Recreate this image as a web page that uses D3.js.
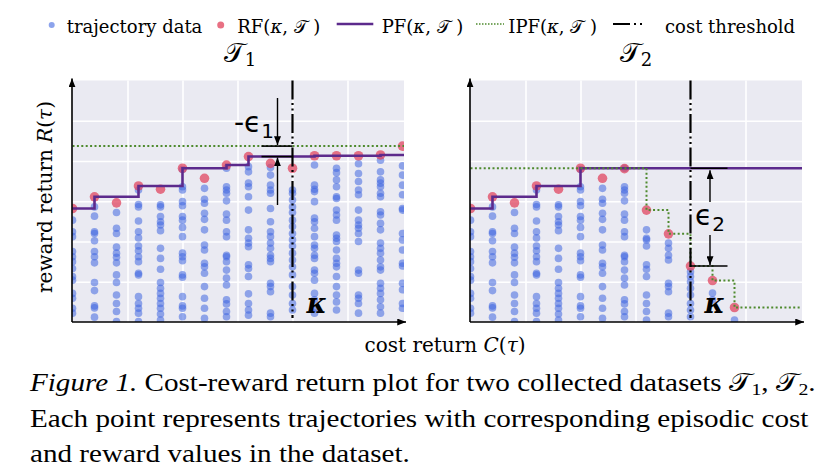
<!DOCTYPE html>
<html>
<head>
<meta charset="utf-8">
<script src="https://cdn.jsdelivr.net/npm/d3@7"></script>
<style>
  body { margin: 0; background: #fff; }
  svg { display: block; }
</style>
</head>
<body>
<svg id="chart" width="833" height="471"></svg>
<script>
// cost columns (shared cost grid of both datasets)
var costT1 = [0, 1, 2, 3, 4, 5, 6, 7, 8, 9, 10, 11, 12, 13, 14, 15];
var costT2 = [0, 1, 2, 3, 4, 5, 6, 7, 8, 9, 10, 11, 12];

// trajectory rewards, one list per cost column
var trajT1 = [
    [25.3, 22.4, 21.2, 17.5, 16.2, 15.0, 13.3, 11.3, 10.4, 7.1, 5.9, 3.4, 2.2],
    [28.6, 26.3, 22.4, 22.0, 20.2, 17.5, 16.2, 14.7, 9.8, 7.8, 4.0, 3.5, 1.2],
    [27.2, 23.3, 22.0, 18.6, 17.1, 16.1, 14.7, 11.7, 9.8, 6.7, 4.6, 2.6, 0.1],
    [32.8, 29.2, 28.6, 25.1, 22.4, 20.9, 18.9, 17.7, 16.2, 15.0, 12.1, 11.7, 6.3, 4.6, 3.4, 2.2, 0.1],
    [29.1, 28.6, 26.2, 24.9, 24.1, 22.7, 18.3, 15.8, 13.1, 9.8, 8.4, 7.1, 5.9, 4.6, 3.4, 2.0, 0.5],
    [37.9, 33.6, 32.8, 29.9, 28.9, 26.2, 25.3, 23.5, 21.2, 17.1, 16.2, 15.2, 11.7, 11.1, 6.3, 4.0, 3.4, 1.3],
    [33.2, 30.5, 29.5, 27.0, 25.5, 22.9, 19.1, 17.9, 14.6, 13.7, 12.1, 8.8, 5.9, 3.4, 0.9],
    [38.2, 33.6, 32.8, 32.0, 30.1, 26.8, 25.3, 22.4, 21.2, 16.6, 16.2, 15.0, 12.9, 10.9, 9.2, 5.5, 4.5, 2.6, 1.3],
    [38.6, 37.3, 34.5, 33.6, 31.1, 27.8, 22.9, 20.8, 19.6, 18.7, 14.2, 13.3, 11.3, 7.0, 4.6, 3.0, 1.7],
    [38.4, 36.5, 34.0, 32.8, 32.0, 28.2, 24.9, 22.4, 21.2, 19.6, 18.3, 16.6, 15.8, 15.0, 9.6, 8.8, 7.5, 2.2, 1.3],
    [32.8, 32.0, 30.3, 28.6, 27.2, 25.3, 23.7, 22.0, 20.4, 18.9, 17.1, 15.4, 13.7, 11.7, 8.8, 6.7, 4.6, 3.0],
    [39.0, 34.0, 33.0, 32.4, 29.9, 25.8, 24.9, 23.3, 21.2, 19.1, 18.3, 16.6, 15.8, 12.9, 12.1, 10.4, 7.1, 5.5, 3.4, 2.2],
    [38.2, 37.1, 35.3, 33.6, 31.1, 30.7, 27.8, 26.6, 25.3, 21.6, 20.8, 20.0, 17.9, 15.8, 14.6, 13.7, 11.3, 8.8, 6.7, 5.0, 3.0],
    [39.3, 36.9, 34.9, 32.8, 31.6, 27.8, 25.3, 24.1, 23.3, 22.0, 20.0, 12.9, 12.1, 6.7, 5.9, 4.6, 2.2],
    [40.2, 37.3, 35.3, 34.5, 33.6, 32.0, 31.1, 27.4, 26.6, 24.5, 22.9, 19.6, 18.3, 17.1, 15.4, 13.7, 12.9, 9.6, 8.4, 7.1, 5.5, 3.8, 2.2],
    [38.8, 36.5, 34.0, 31.6, 28.2, 27.8, 22.0, 20.4, 17.9, 14.6, 13.9, 9.6, 8.0, 4.6, 3.4]
];
// the second dataset keeps the low-cost columns and has few high-cost trajectories
var trajT2 = trajT1.slice(0, 8).concat([
    [22.9, 20.8, 20.4, 18.9, 14.2, 13.1, 11.3, 6.7, 4.6, 2.6, 0.5],
    [19.6, 18.3, 16.6, 15.4, 9.6, 8.8, 7.5, 2.2, 1.3],
    [12.5, 11.3, 10.0, 8.4, 6.7, 4.6, 3.0, 1.3],
    [7.2, 5.5],
    [0.5]
]);

var rfT1 = [28.2, 31.1, 29.6, 33.8, 33.0, 38.2, 35.7, 39.0, 41.1, 39.4, 38.2, 41.3, 41.3, 41.3, 41.5, 43.7];
var pfT1 = [28.2, 31.1, 31.1, 33.8, 33.8, 38.2, 38.2, 39.0, 41.1, 41.1, 41.1, 41.3, 41.3, 41.3, 41.5, 41.5];
var ipfT1 = [43.7, 43.7, 43.7, 43.7, 43.7, 43.7, 43.7, 43.7, 43.7, 43.7, 43.7, 43.7, 43.7, 43.7, 43.7, 43.7];

var rfT2 = [28.2, 31.1, 29.6, 33.8, 33.0, 38.2, 35.7, 38.1, 27.8, 21.9, 13.9, 10.3, 3.6];
var pfT2 = [28.2, 31.1, 31.1, 33.8, 33.8, 38.2, 38.2, 38.2, 38.2, 38.2, 38.2, 38.2, 38.2];
var ipfT2 = [38.2, 38.2, 38.2, 38.2, 38.2, 38.2, 38.2, 38.2, 27.8, 21.9, 13.9, 10.3, 3.6];

var kappa = 10;
var costGrid = [2.5, 5, 7.5, 10, 12.5];
var rewardGrid = [10, 20, 30, 40, 50];

var svg = d3.select("#chart");
var serif = "'DejaVu Serif', serif";

// arrow head marker
var defs = svg.append("defs");
defs.append("marker")
    .attr("id", "arrow")
    .attr("viewBox", "0 0 10 8")
    .attr("refX", 10).attr("refY", 4)
    .attr("markerWidth", 9).attr("markerHeight", 7)
    .attr("markerUnits", "userSpaceOnUse")
    .attr("orient", "auto")
    .append("path").attr("d", "M0,0L10,4L0,8z").attr("fill", "#000");

function drawPanel(id, left, cost, traj, rf, pf, ipf, eps) {
    var w = 332, top = 80.5, bottom = 322;
    var x = d3.scaleLinear().domain([0, 15]).range([left + 0.5, left + 330.5]);
    var y = d3.scaleLinear().domain([0, 60]).range([bottom, top]);
    var xEnd = x.invert(left + w);

    var g = svg.append("g").attr("class", "panel-" + id);

    defs.append("clipPath").attr("id", "clip-" + id)
        .append("rect").attr("x", left).attr("y", top).attr("width", w).attr("height", bottom - top);

    g.append("rect")
        .attr("x", left).attr("y", top)
        .attr("width", w).attr("height", bottom - top)
        .attr("fill", "#eaeaf2");

    // grid
    g.append("g")
        .attr("transform", "translate(0," + bottom + ")")
        .call(d3.axisBottom(x).tickValues(costGrid).tickSize(-(bottom - top)).tickFormat(""))
        .call(function(s) { s.select(".domain").remove(); })
        .selectAll("line").attr("stroke", "#fff").attr("stroke-width", 1.6);
    g.append("g")
        .attr("transform", "translate(" + left + ",0)")
        .call(d3.axisLeft(y).tickValues(rewardGrid).tickSize(-w).tickFormat(""))
        .call(function(s) { s.select(".domain").remove(); })
        .selectAll("line").attr("stroke", "#fff").attr("stroke-width", 1.6);

    var pts = [];
    traj.forEach(function(col, i) {
        col.forEach(function(v) { pts.push({c: cost[i], r: v}); });
    });

    var clipped = g.append("g").attr("clip-path", "url(#clip-" + id + ")");
    clipped.selectAll("circle.traj")
        .data(pts)
        .enter()
        .append("circle")
        .attr("class", "traj")
        .attr("cx", function(d) { return x(d.c); })
        .attr("cy", function(d) { return y(d.r); })
        .attr("r", 3.8)
        .attr("fill", "#3f66e0")
        .attr("fill-opacity", 0.55);

    clipped.selectAll("circle.rf")
        .data(rf)
        .enter()
        .append("circle")
        .attr("class", "rf")
        .attr("cx", function(d, i) { return x(cost[i]); })
        .attr("cy", function(d) { return y(d); })
        .attr("r", 4.8)
        .attr("fill", "#e0405a")
        .attr("fill-opacity", 0.72);

    var step = d3.line()
        .x(function(d) { return x(d[0]); })
        .y(function(d) { return y(d[1]); })
        .curve(d3.curveStepAfter);

    function stepData(vals) {
        var arr = vals.map(function(v, i) { return [cost[i], v]; });
        arr.push([xEnd, vals[vals.length - 1]]);
        return arr;
    }

    g.append("path")
        .attr("d", step(stepData(pf)))
        .attr("fill", "none")
        .attr("stroke", "#5c2a8c")
        .attr("stroke-width", 2.6);

    g.append("path")
        .attr("d", step(stepData(ipf)))
        .attr("fill", "none")
        .attr("stroke", "#4e8a2e")
        .attr("stroke-width", 2)
        .attr("stroke-dasharray", "2,2.4");

    // cost threshold
    g.append("line")
        .attr("x1", x(kappa)).attr("x2", x(kappa))
        .attr("y1", top).attr("y2", bottom - 4)
        .attr("stroke", "#000")
        .attr("stroke-width", 2.2)
        .attr("stroke-dasharray", "19,3.5,2,3.5,2,3.5");

    // axes
    g.append("line")
        .attr("x1", left).attr("y1", bottom)
        .attr("x2", left + w + 2).attr("y2", bottom)
        .attr("stroke", "#000").attr("stroke-width", 1.6)
        .attr("marker-end", "url(#arrow)");
    g.append("line")
        .attr("x1", left).attr("y1", bottom)
        .attr("x2", left).attr("y2", top - 2)
        .attr("stroke", "#000").attr("stroke-width", 1.6)
        .attr("marker-end", "url(#arrow)");

    // epsilon gap annotation
    var xk = x(kappa);
    [y(eps.hi), y(eps.lo)].forEach(function(yy) {
        g.append("line")
            .attr("x1", xk + eps.seg[0]).attr("x2", xk + eps.seg[1])
            .attr("y1", yy).attr("y2", yy)
            .attr("stroke", "#000").attr("stroke-width", 1.6);
    });
    var ax = xk + eps.arrowX;
    var tips = [y(eps.hi) + eps.tipPad[0], y(eps.lo) + eps.tipPad[1]];
    [0, 1].forEach(function(k) {
        g.append("line")
            .attr("x1", ax).attr("x2", ax)
            .attr("y1", eps.from[k]).attr("y2", tips[k])
            .attr("stroke", "#000").attr("stroke-width", 1.4)
            .attr("marker-end", "url(#arrow)");
    });

    var lab = g.append("text")
        .attr("x", eps.label[0]).attr("y", eps.label[1])
        .attr("font-family", "'DejaVu Sans', sans-serif")
        .attr("font-size", 28)
        .attr("fill", "#000");
    lab.append("tspan").text(eps.prefix + "\u03F5");
    lab.append("tspan").attr("font-size", 20).attr("dy", 6).text(eps.sub);

    g.append("text")
        .attr("x", xk + 14).attr("y", 313)
        .attr("font-family", serif)
        .attr("font-size", 27)
        .attr("font-weight", "bold")
        .attr("font-style", "italic")
        .text("\u03BA");

    return {x: x, y: y};
}

drawPanel("t1", 72, costT1, trajT1, rfT1, pfT1, ipfT1, {
    hi: 43.7, lo: 41.1, seg: [-31, 0], arrowX: -15, tipPad: [-1, 1],
    from: [98, 205], label: [234, 132], prefix: "-", sub: "1"
});

drawPanel("t2", 470, costT2, trajT2, rfT2, pfT2, ipfT2, {
    hi: 38.2, lo: 13.9, seg: [0, 37], arrowX: 19.5, tipPad: [2, -1],
    from: [202, 235], label: [695, 225], prefix: "", sub: "2"
});

// panel titles
function calT(x, yb, sub) {
    var t = svg.append("text")
        .attr("x", x).attr("y", yb)
        .attr("font-family", serif)
        .attr("font-size", 27)
        .attr("text-anchor", "middle");
    t.append("tspan").text("\uD835\uDCAF");
    t.append("tspan").attr("font-size", 18).attr("dy", 4).text(sub);
}
calT(240, 62, "1");
calT(636, 62, "2");

// legend
var lg = svg.append("g").attr("font-family", serif).attr("font-size", 18);
lg.append("circle").attr("cx", 51.7).attr("cy", 25).attr("r", 3).attr("fill", "#3f66e0").attr("fill-opacity", 0.6);
lg.append("text").attr("x", 66.7).attr("y", 33).text("trajectory data");
lg.append("circle").attr("cx", 220.7).attr("cy", 25).attr("r", 3.5).attr("fill", "#e0405a").attr("fill-opacity", 0.75);
lg.append("line").attr("x1", 336.7).attr("x2", 373.3).attr("y1", 24).attr("y2", 24)
    .attr("stroke", "#5c2a8c").attr("stroke-width", 2.5);
lg.append("line").attr("x1", 476).attr("x2", 504).attr("y1", 24).attr("y2", 24)
    .attr("stroke", "#4e8a2e").attr("stroke-width", 1.6).attr("stroke-dasharray", "1.5,1.5");
lg.append("line").attr("x1", 613).attr("x2", 645).attr("y1", 24).attr("y2", 24)
    .attr("stroke", "#000").attr("stroke-width", 2.2).attr("stroke-dasharray", "17,4,2,4,2,6");

function mathLabel(x, name) {
    var t = lg.append("text").attr("x", x).attr("y", 33);
    t.append("tspan").text(name + "(");
    t.append("tspan").attr("font-style", "italic").text("\u03BA");
    t.append("tspan").text(", \uD835\uDCAF )");
}
mathLabel(237.3, "RF");
mathLabel(381.7, "PF");
mathLabel(508.3, "IPF");
lg.append("text").attr("x", 665).attr("y", 33).text("cost threshold");

// axis labels
var xl = svg.append("text")
    .attr("x", 445).attr("y", 352)
    .attr("text-anchor", "middle")
    .attr("font-family", serif).attr("font-size", 20);
xl.append("tspan").text("cost return ");
xl.append("tspan").attr("font-style", "italic").text("C");
xl.append("tspan").text("(");
xl.append("tspan").attr("font-style", "italic").text("\u03C4");
xl.append("tspan").text(")");

var yl = svg.append("text")
    .attr("transform", "translate(52,197) rotate(-90)")
    .attr("text-anchor", "middle")
    .attr("font-family", serif).attr("font-size", 20);
yl.append("tspan").text("reward return ");
yl.append("tspan").attr("font-style", "italic").text("R");
yl.append("tspan").text("(");
yl.append("tspan").attr("font-style", "italic").text("\u03C4");
yl.append("tspan").text(")");

// caption (the paper's Times face is set a little wide)
var cap = svg.append("g")
    .attr("transform", "translate(30,0) scale(1.165,1)")
    .attr("font-family", "'Liberation Serif', serif").attr("font-size", 25);
var c1 = cap.append("text").attr("x", 0).attr("y", 391.5);
c1.append("tspan").attr("font-style", "italic").text("Figure 1.");
c1.append("tspan").text(" Cost-reward return plot for two collected datasets \uD835\uDCAF");
c1.append("tspan").attr("font-size", 17).attr("dy", 4).text("1");
c1.append("tspan").attr("dy", -4).text(", \uD835\uDCAF");
c1.append("tspan").attr("font-size", 17).attr("dy", 4).text("2");
c1.append("tspan").attr("dy", -4).text(".");
cap.append("text").attr("x", 0).attr("y", 427)
    .text("Each point represents trajectories with corresponding episodic cost");
cap.append("text").attr("x", 0).attr("y", 462)
    .text("and reward values in the dataset.");
</script>
</body>
</html>
